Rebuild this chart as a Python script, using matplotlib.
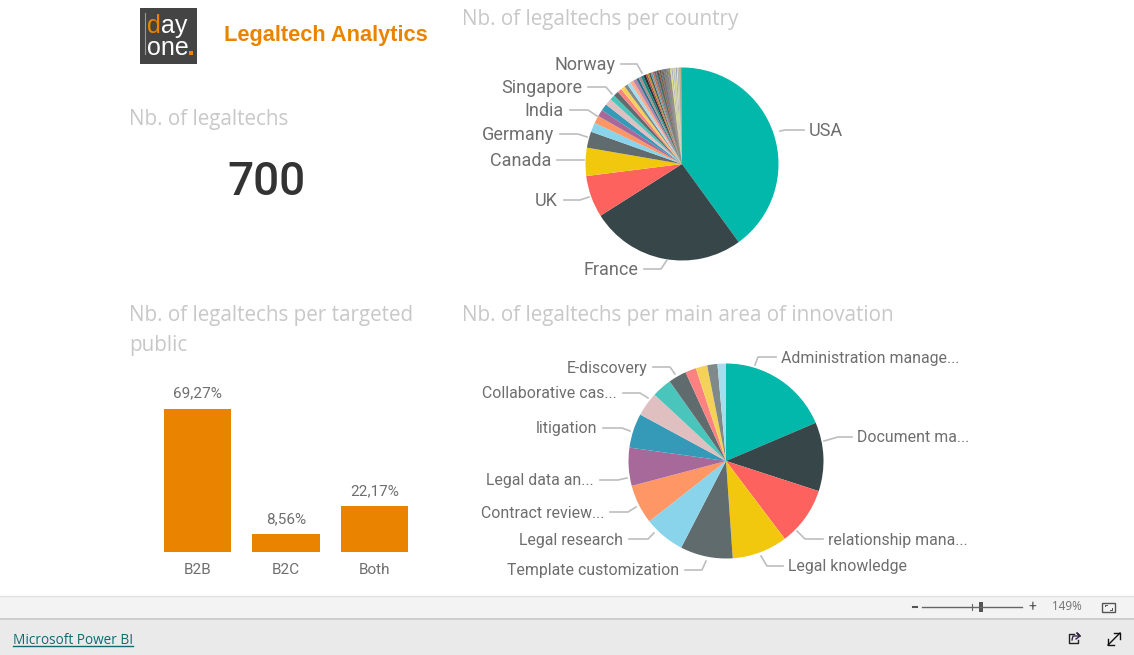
import matplotlib
matplotlib.use("Agg")
import matplotlib.pyplot as plt
from matplotlib.patches import Rectangle

W, H = 1134, 655

# Power BI default theme colours, slices take them in order
palette = ['#01B8AA', '#374649', '#FD625E', '#F2C80F', '#5F6B6D', '#8AD4EB', '#FE9666', '#A66999',
           '#3599B8', '#DFBFBF', '#4AC5BB', '#5F6B6D', '#FB8281', '#F4D25A', '#7F898A', '#A4DDEE',
           '#FDAB89', '#B687AC', '#28738A', '#A78F8F', '#168980', '#293537', '#BB4A4A', '#B59525',
           '#475052', '#6A9FB0', '#BD7150', '#7B4F71', '#1B4D5C', '#706B6B', '#0F5C55', '#1C2325',
           '#7D3231', '#796419', '#303637', '#476A75', '#7E4B36', '#52354B', '#5A6E74', '#6E5A5A',
           '#4F6B66', '#77706A', '#5E5A78', '#8A7A52', '#6B7A5A', '#7C6A7A', '#C4D36A', '#E6D96A',
           '#8C9CC0', '#E6E08A', '#A9A9C9', '#BFC46A', '#D9D97A', '#7F8FB0', '#E8E4A0', '#9AA0BE',
           '#C9C47A', '#8A8A8A', '#B0A060', '#808080']

country_counts = [280, 182, 49, 33, 19, 11, 9, 8, 8, 8, 6, 6,
                  5, 5, 4, 4, 4, 4, 3, 3, 3, 3, 2, 2, 2, 2, 2,
                  1, 1, 1, 1, 1, 1, 1, 1, 1, 1, 1, 1, 1, 1, 1, 1, 1,
                  1, 1, 1, 1, 1, 1, 1, 1, 1, 1, 1, 1, 1, 1, 1, 1]

area_names = ['Administration manage...', 'Document ma...', 'relationship mana...', 'Legal knowledge',
              'Template customization', 'Legal research', 'Contract review...', 'Legal data an...',
              'litigation', 'Collaborative cas...', 'E-discovery']
area_shares = [18.6, 11.4, 9.7, 9.2, 8.7, 6.8, 6.5, 6.3, 5.7, 4.0, 3.3, 3.0, 1.8, 1.9, 1.7, 1.4]

public_names = ['B2B', 'B2C', 'Both']
public_shares = [69.27, 8.56, 22.17]
public_labels = ['69,27%', '8,56%', '22,17%']

ORANGE = '#E98300'
TITLE = '#C8C8C8'
LABEL = '#6E6E6E'
LINE = '#BDBDBD'


def px_axes(left, top, right, bottom):
    return fig.add_axes([left / W, 1 - bottom / H, (right - left) / W, (bottom - top) / H])


def draw_pie(cx, cy, r, values):
    ax = px_axes(cx - r, cy - r, cx + r, cy + r)
    colors = [palette[i % len(palette)] for i in range(len(values))]
    ax.pie(values, colors=colors, startangle=90, counterclock=False,
           wedgeprops={'linewidth': 0})
    ax.set_xlim(-1, 1)
    ax.set_ylim(-1, 1)
    return ax


def leader(points, text, size, side):
    xs = [p[0] for p in points]
    ys = [p[1] for p in points]
    ui.plot(xs, ys, color=LINE, lw=1.2, solid_joinstyle='round')
    if side == 'right':
        ui.text(xs[0] + 5, ys[0] + 1, text, color=LABEL, fontsize=size, va='center', ha='left')
    else:
        ui.text(xs[0] - 6, ys[0] + 1, text, color=LABEL, fontsize=size, va='center', ha='right')


fig = plt.figure(figsize=(W / 100, H / 100), dpi=100, facecolor='white')
plt.rcParams['font.family'] = ['Roboto', 'DejaVu Sans']

# overlay in screen pixels for titles, leader lines and the window chrome
ui = fig.add_axes([0, 0, 1, 1], zorder=5)
ui.set_xlim(0, W)
ui.set_ylim(H, 0)
ui.axis('off')
ui.patch.set_alpha(0)

draw_pie(682, 164, 96.5, country_counts)
draw_pie(726, 461, 97.5, area_shares)

# bars
bar_ax = px_axes(153.25, 380, 418.75, 552)
bars = bar_ax.bar(public_names, public_shares, width=0.76, color=ORANGE)
bar_ax.bar_label(bars, labels=public_labels, padding=6, color=LABEL, fontsize=11)
bar_ax.set_xlim(-0.5, 2.5)
bar_ax.set_ylim(0, 83.3)
bar_ax.set_yticks([])
bar_ax.tick_params(axis='x', length=0, pad=8, labelsize=11, labelcolor=LABEL)
for s in bar_ax.spines.values():
    s.set_visible(False)
bar_ax.patch.set_alpha(0)

# titles
title_font = ['Open Sans', 'DejaVu Sans']
ui.text(462, 19, 'Nb. of legaltechs per country', color=TITLE, fontsize=14.9, va='center', family=title_font)
ui.text(129, 119, 'Nb. of legaltechs', color=TITLE, fontsize=14.9, va='center', family=title_font)
ui.text(129, 316, 'Nb. of legaltechs per targeted', color=TITLE, fontsize=14.9, va='center', family=title_font)
ui.text(129, 346, 'public', color=TITLE, fontsize=14.9, va='center', family=title_font)
ui.text(462, 316, 'Nb. of legaltechs per main area of innovation', color=TITLE, fontsize=14.9, va='center',
        family=title_font)
ui.text(266, 182, '700', color='#333333', fontsize=33, ha='center', va='center', fontweight='medium')
ui.text(224, 35, 'Legaltech Analytics', color=ORANGE, fontsize=15.7, fontweight='bold', va='center',
        family=['Liberation Sans'])

# logo
ui.add_patch(Rectangle((140, 8), 57, 56, color='#444444', lw=0))
ui.plot([145, 145], [13, 54], color='#9A9A9A', lw=0.8)
logo_font = ['Liberation Sans']
ui.text(147, 33, 'd', color=ORANGE, fontsize=18, va='baseline', family=logo_font)
ui.text(161, 33, 'ay', color='white', fontsize=18, va='baseline', family=logo_font)
ui.text(147, 55, 'one', color='white', fontsize=18, va='baseline', family=logo_font)
ui.add_patch(Rectangle((189, 51), 4, 3.5, color=ORANGE, lw=0))

# country pie labels
leader([(804, 130), (785, 130), (780, 131)], 'USA', 13, 'right')
leader([(644, 269), (661, 269), (667, 260)], 'France', 13, 'left')
leader([(564, 200), (580, 200), (589, 197)], 'UK', 13, 'left')
leader([(557, 160), (584, 160)], 'Canada', 13, 'left')
leader([(560, 134), (578, 134), (587, 137)], 'Germany', 13, 'left')
leader([(570, 110), (588, 110), (597, 116)], 'India', 13, 'left')
leader([(588, 87), (606, 87), (612, 94)], 'Singapore', 13, 'left')
leader([(621, 64), (637, 64), (642, 73)], 'Norway', 13, 'left')

# innovation pie labels
leader([(776, 357), (758, 357), (755, 365)], area_names[0], 11.4, 'right')
leader([(852, 437), (838, 437), (824, 441)], area_names[1], 11.4, 'right')
leader([(823, 539), (805, 539), (797, 531)], area_names[2], 11.4, 'right')
leader([(783, 566), (767, 566), (761, 556)], area_names[3], 11.4, 'right')
leader([(685, 570), (702, 570), (706, 561)], area_names[4], 11.4, 'left')
leader([(629, 539), (648, 539), (654, 533)], area_names[5], 11.4, 'left')
leader([(610, 512), (628, 512), (636, 507)], area_names[6], 11.4, 'left')
leader([(600, 480), (618, 480), (627, 478)], area_names[7], 11.4, 'left')
leader([(603, 428), (622, 428), (630, 431)], area_names[8], 11.4, 'left')
leader([(623, 393), (640, 393), (648, 398)], area_names[9], 11.4, 'left')
leader([(653, 367), (670, 367), (675, 374)], area_names[10], 11.4, 'left')

# window chrome
ui.add_patch(Rectangle((0, 596), W, 22, color='#F3F3F3', lw=0))
ui.plot([0, W], [596, 596], color='#E1E1E1', lw=1)
ui.add_patch(Rectangle((0, 618), W, 37, color='#EAEAEA', lw=0))
ui.plot([0, W], [618.5, 618.5], color='#C8C8C8', lw=1.2)
ui_font = ['Open Sans', 'DejaVu Sans']
ui.text(13, 640, 'Microsoft Power BI', color='#0F6B70', fontsize=9.8, va='center', family=ui_font)
ui.plot([13, 133], [645.5, 645.5], color='#0F6B70', lw=1)
ui.plot([913, 917], [607, 607], color='#555555', lw=1.5)
ui.plot([922, 1022], [607, 607], color='#666666', lw=1)
ui.plot([972, 972], [604, 610], color='#666666', lw=0.8)
ui.add_patch(Rectangle((979, 602), 4, 10, color='#555555', lw=0))
ui.text(1032, 607, '+', color='#555555', fontsize=10, ha='center', va='center')
ui.text(1067, 607, '149%', color='#707070', fontsize=8.4, ha='center', va='center', family=ui_font)
ui.add_patch(Rectangle((1102, 602.5), 13, 9, fill=False, edgecolor='#555555', lw=1))
ui.plot([1105, 1105, 1107], [606, 604.5, 604.5], color='#555555', lw=0.7)
ui.plot([1112, 1112, 1110], [608, 609.5, 609.5], color='#555555', lw=0.7)
# share icon
ui.plot([1074, 1069, 1069, 1078, 1078], [634, 634, 643, 643, 640], color='#222222', lw=1)
ui.plot([1072, 1073, 1080, 1077, 1080, 1076], [640, 636, 636, 633, 636, 639], color='#3A2A4A', lw=1)
# expand icon
ui.plot([1108, 1120], [645, 633], color='#111111', lw=1)
ui.plot([1114, 1120, 1120], [633, 633, 639], color='#111111', lw=1)
ui.plot([1108, 1108, 1114], [639, 645, 645], color='#111111', lw=1)

fig.savefig('out.png', dpi=100)
